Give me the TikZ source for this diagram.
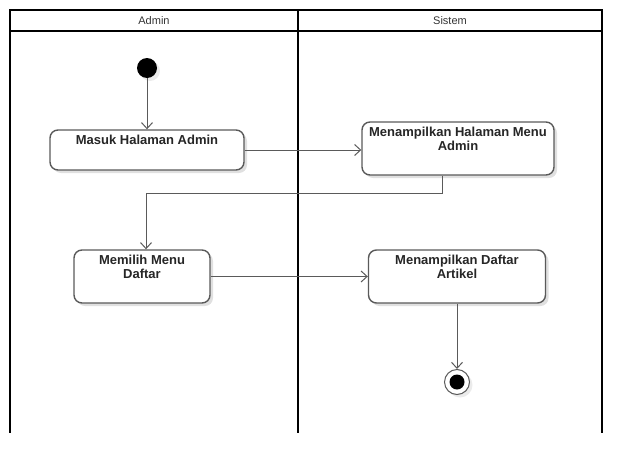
\documentclass[tikz,border=0pt]{standalone}
\usepackage{fontspec}
\setmainfont{Liberation Sans}
\usetikzlibrary{arrows.meta,shadows}
\definecolor{edgegray}{HTML}{5A5A5A}
\begin{document}
\begin{tikzpicture}[x=1pt,y=-1pt,
  lane/.style={line width=2pt,black},
  actbox/.style={draw=edgegray,line width=1.4pt,fill=white,rounded corners=8pt,
    drop shadow={shadow xshift=3pt,shadow yshift=-3pt,fill=black!12,opacity=1},
    inner sep=0pt},
  acttext/.style={anchor=north,align=center,font=\fontsize{13}{13.5}\selectfont\bfseries,inner sep=0pt,text=black!85},
  arr/.style={draw=edgegray,line width=1pt,-{Straight Barb[length=6pt,width=11pt]}},
  lanetitle/.style={font=\fontsize{11}{12}\selectfont,text=black!80}]
\useasboundingbox (0,0) rectangle (642,474);
% swimlanes
\draw[lane] (10,10) -- (602,10);
\draw[lane] (10,31) -- (602,31);
\draw[lane] (10,9) -- (10,433);
\draw[lane] (298,10) -- (298,433);
\draw[lane] (602,9) -- (602,433);
\node[lanetitle] (tadmin) at (154,20.5) {Admin};
\node[lanetitle] (tsistem) at (450,20.5) {Sistem};
% start
\node[circle,fill=black,minimum size=20pt,inner sep=0pt,
  drop shadow={shadow xshift=3pt,shadow yshift=-3pt,fill=black!8,opacity=1}] (start) at (147,68) {};
% activities
\node[actbox,minimum width=194pt,minimum height=40pt] (b1) at (147,150) {};
\node[acttext] (t1) at ([yshift=-6pt]b1.north) {Masuk Halaman Admin};
\node[actbox,minimum width=192pt,minimum height=53pt] (b2) at (458,148.5) {};
\node[acttext] (t2) at ([yshift=-6pt]b2.north) {Menampilkan Halaman Menu\\Admin};
\node[actbox,minimum width=136pt,minimum height=53pt] (b3) at (142,276.5) {};
\node[acttext] (t3) at ([yshift=-6pt]b3.north) {Memilih Menu\\Daftar};
\node[actbox,minimum width=177pt,minimum height=53pt] (b4) at (457,276.5) {};
\node[acttext] (t4) at ([yshift=-6pt]b4.north) {Menampilkan Daftar\\Artikel};
% end
\node[circle,draw=edgegray,line width=1pt,fill=white,minimum size=25pt,inner sep=0pt,
  drop shadow={shadow xshift=3pt,shadow yshift=-3pt,fill=black!8,opacity=1}] (end) at (457,382) {};
\node[circle,fill=black,minimum size=15pt,inner sep=0pt] (endin) at (end) {};
% connectors
\draw[arr] (start) -- (b1.north);
\draw[arr] (b1.east) -- (b1.east -| b2.west);
\draw[arr] ([xshift=-16pt]b2.south) -- ++(0,18) -| ([xshift=4pt]b3.north);
\draw[arr] (b3.east) -- (b3.east -| b4.west);
\draw[arr] (b4.south) -- (end.north);
\end{tikzpicture}
\end{document}
